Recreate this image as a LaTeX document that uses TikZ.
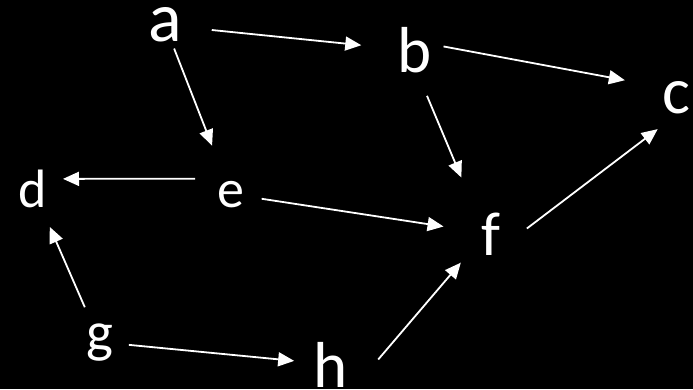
\documentclass[tikz,border=0pt]{standalone}
\usepackage{fontspec}
\setmainfont{Carlito}
\usetikzlibrary{arrows.meta}

\begin{document}
\begin{tikzpicture}[x=1pt, y=1pt,
    vtx/.style={text=white, inner sep=0pt, anchor=base, font=\fontsize{#1}{#1}\selectfont},
    edge/.style={draw=white, line width=1.8pt, -{Triangle[length=16pt,width=14pt]}}]
      % Nền đen
      \fill[black] (0,0) rectangle (693,389);

      % Các đỉnh
      \node[vtx=70] (a) at (165,347) {a};
      \node[vtx=65] (b) at (415,316) {b};
      \node[vtx=66] (c) at (676,276) {c};
      \node[vtx=54] (d) at (33,182) {d};
      \node[vtx=54] (e) at (231,182) {e};
      \node[vtx=62] (f) at (491,134) {f};
      \node[vtx=57] (g) at (100,38) {g};
      \node[vtx=65] (h) at (331,2) {h};

      % Các cung có hướng
      \draw[edge, shorten <=47pt, shorten >=54pt] (a.center) -- (b.center);
      \draw[edge, shorten <=25pt, shorten >=52pt] (a.center) -- (e.center);
      \draw[edge, shorten <=29pt, shorten >=52pt] ([yshift=9.5pt]b.center) -- ([yshift=7.5pt]c.center);
      \draw[edge, shorten <=49pt, shorten >=61pt] ([xshift=-7pt]b.center) -- ([xshift=-6pt]f.center);
      \draw[edge, shorten <=36pt, shorten >=30pt] ([yshift=15.5pt]e.center) -- ([yshift=9.5pt]d.center);
      \draw[edge, shorten <=31pt, shorten >=48pt] (e.center) -- (f.center);
      \draw[edge, shorten <=45pt, shorten >=23pt] ([yshift=-22pt]f.center) -- ([yshift=-18pt]c.center);
      \draw[edge, shorten <=38pt, shorten >=42pt] (g.center) -- (d.center);
      \draw[edge, shorten <=29pt, shorten >=37pt] (g.center) -- (h.center);
      \draw[edge, shorten <=6.5pt, shorten >=38pt] ([xshift=43pt]h.center) -- ([xshift=-5.5pt]f.center);
\end{tikzpicture}
\end{document}
